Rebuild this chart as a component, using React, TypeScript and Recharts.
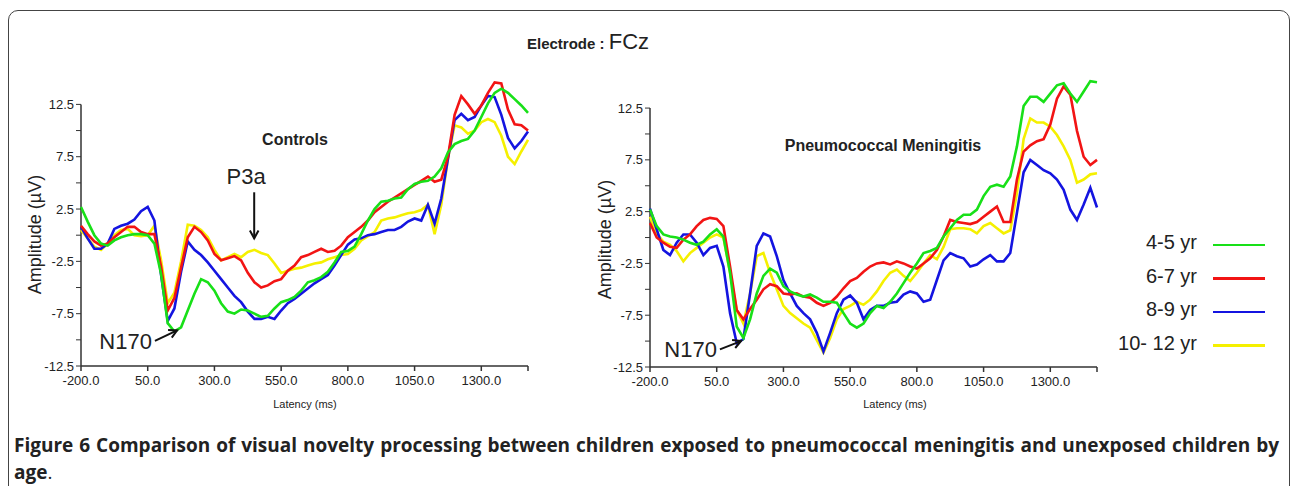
import React from "react";
import { LineChart, Line, XAxis, YAxis, ReferenceLine } from "recharts";

// latency (ms), one sample every 25 ms
const LATENCY = [
  -200, -175, -150, -125, -100, -75, -50, -25, 0, 25,
  50, 75, 100, 125, 150, 175, 200, 225, 250, 275,
  300, 325, 350, 375, 400, 425, 450, 475, 500, 525,
  550, 575, 600, 625, 650, 675, 700, 725, 750, 775,
  800, 825, 850, 875, 900, 925, 950, 975, 1000, 1025,
  1050, 1075, 1100, 1125, 1150, 1175, 1200, 1225, 1250, 1275,
  1300, 1325, 1350, 1375, 1400, 1425, 1450, 1475,
];

// Controls (µV)
const CONTROLS_4_5 = [
  2.7, 1.3, 0, -0.8, -1.0, -0.5, -0.2, 0, 0.1, 0.1,
  0, -0.8, -3.7, -8.4, -9.2, -8.8, -7.2, -5.6, -4.2, -4.5,
  -5.3, -6.5, -7.3, -7.5, -7.1, -7.2, -7.5, -7.8, -7.7, -7.0,
  -6.4, -6.2, -5.9, -5.3, -4.5, -4.3, -4.0, -3.5, -2.6, -1.6,
  -1.5, -1.1, 0.1, 1.4, 2.5, 3.2, 3.3, 3.5, 3.6, 4.4,
  4.9, 5.1, 5.2, 5.6, 6.4, 7.9, 8.7, 9.0, 9.2, 10.0,
  11.3, 12.6, 13.6, 14.0, 13.6, 13.0, 12.4, 11.7,
];
const CONTROLS_6_7 = [
  0.9, 0.1, -0.6, -1.0, -0.8, -0.2, 0.3, 0.8, 0.8, 0.3,
  0.1, 0.1, -3.0, -7.2, -6.0, -3.1, -0.2, 0.8, 0.3, -0.5,
  -1.8, -2.4, -2.2, -2.0, -2.4, -3.6, -4.5, -5.0, -4.8, -4.4,
  -4.2, -3.4, -2.9, -2.1, -1.9, -1.6, -1.3, -1.6, -1.5, -1.0,
  -0.2, 0.3, 0.8, 1.4, 2.2, 2.7, 3.2, 3.6, 4.0, 4.4,
  4.8, 5.2, 5.6, 5.1, 5.3, 7.5, 11.5, 13.3, 12.5, 11.6,
  12.4, 13.6, 14.6, 14.5, 12.0, 10.6, 10.5, 10.0,
];
const CONTROLS_8_9 = [
  0.8, -0.3, -1.3, -1.3, -0.8, 0.6, 0.9, 1.1, 1.5, 2.3,
  2.7, 1.4, -3.8, -8.2, -7.0, -3.5, -0.6, -1.4, -1.9, -2.6,
  -3.4, -4.2, -5.0, -5.8, -6.4, -7.3, -8.0, -8.0, -7.8, -8.0,
  -7.2, -6.5, -6.1, -5.6, -5.1, -4.6, -4.2, -3.8, -2.9, -1.9,
  -0.9, -0.4, -0.3, 0, 0.1, 0.3, 0.5, 0.5, 0.8, 1.3,
  1.6, 1.4, 2.9, 1.1, 3.5, 7.3, 11.0, 11.6, 11.0, 11.3,
  12.4, 13.3, 13.2, 11.5, 9.3, 8.3, 9.0, 9.9,
];
const CONTROLS_10_12 = [
  0.5, -0.3, -1.1, -1.4, -0.8, 0, 0.5, 0.6, 0.0, -0.1,
  0.0, 0.9, -2.4, -6.5, -5.5, -2.5, 1.0, 0.9, 0.5, -0.2,
  -1.4, -2.4, -2.1, -1.8, -2.1, -1.6, -1.4, -1.7, -1.9, -2.7,
  -3.6, -3.4, -3.2, -3.1, -2.9, -2.7, -2.6, -2.3, -2.1, -1.9,
  -1.8, -1.3, -0.5, -0.1, 0.3, 1.4, 1.6, 1.7, 1.9, 2.1,
  2.2, 2.4, 2.9, 0.1, 2.9, 7.3, 10.5, 10.3, 9.7, 10.0,
  10.8, 11.1, 10.8, 9.5, 7.5, 6.8, 8.0, 9.1,
];

// Pneumococcal meningitis (µV)
const MENINGITIS_4_5 = [
  2.7, 1.1, 0.3, 0.1, 0, -0.2, -0.5, -0.7, -0.4, 0.3,
  0.8, 0.1, -3.4, -8.6, -9.7, -7.9, -5.4, -3.7, -3.0, -3.4,
  -4.7, -5.2, -5.5, -5.7, -5.5, -5.8, -6.2, -6.2, -6.3, -7.3,
  -8.3, -8.7, -8.3, -7.3, -6.6, -6.8, -6.2, -5.4, -4.4, -3.4,
  -2.5, -1.5, -1.3, -1.0, 0.1, 0.9, 1.7, 2.2, 2.2, 2.7,
  4.0, 4.9, 5.1, 4.9, 5.9, 8.8, 12.7, 13.6, 13.6, 13.1,
  13.9, 14.7, 14.9, 13.9, 13.1, 14.1, 15.1, 15.0,
];
const MENINGITIS_6_7 = [
  1.4, 0, -0.5, -0.9, -1.0, -0.2, 0.3, 1.1, 1.7, 1.9,
  1.8, 1.1, -2.8, -7.0, -7.9, -6.9, -6.0, -5.0, -4.5, -4.7,
  -5.4, -5.5, -5.4, -5.7, -5.8, -6.3, -6.6, -6.3, -5.7, -4.9,
  -4.2, -3.9, -3.3, -2.8, -2.5, -2.4, -2.6, -2.3, -2.5, -2.8,
  -3.0, -2.5, -2.0, -1.2, 0.1, 1.7, 1.5, 1.4, 1.3, 1.5,
  2.0, 2.5, 3.0, 1.5, 1.5, 5.6, 8.3, 8.9, 9.3, 9.5,
  10.9, 13.4, 14.6, 13.8, 10.3, 7.8, 7.0, 7.5,
];
const MENINGITIS_8_9 = [
  2.8, 0.8, -1.2, -1.7, -0.5, 0.3, 0.3, -0.5, -1.7, -1.0,
  -0.8, -2.8, -7.3, -10.2, -9.8, -5.4, -0.8, 0.4, 0.1, -1.8,
  -4.1, -5.4, -6.6, -7.3, -7.9, -9.2, -11.0, -9.2, -7.3, -6.0,
  -5.6, -6.3, -7.9, -7.0, -6.6, -6.6, -6.3, -6.2, -5.5, -5.2,
  -5.4, -6.2, -6.0, -4.1, -2.2, -1.5, -1.8, -2.0, -2.8, -2.6,
  -2.1, -1.7, -2.3, -2.3, -1.5, 2.4, 6.3, 7.5, 7.0, 6.5,
  6.2, 5.6, 4.6, 2.7, 1.7, 3.2, 4.8, 2.9,
];
const MENINGITIS_10_12 = [
  2.0, 0.4, -0.4, -0.7, -1.3, -2.3, -1.5, -1.0, -0.5, 0,
  0.3, 0, -3.4, -7.0, -8.3, -5.4, -1.8, -1.5, -3.4, -5.0,
  -6.6, -7.3, -7.8, -8.3, -8.7, -9.9, -11.1, -9.7, -7.9, -6.9,
  -6.6, -6.2, -6.5, -6.0, -5.2, -4.2, -3.4, -3.1, -3.7, -4.2,
  -3.4, -2.5, -1.7, -2.1, -0.9, 0.8, 0.9, 0.9, 0.8, 0.4,
  1.1, 1.4, 0.9, 0.4, 0.7, 4.3, 9.5, 11.5, 11.1, 11.1,
  10.7, 9.9, 8.8, 7.5, 5.3, 5.6, 6.1, 6.2,
];

const AGE_GROUPS = ["4-5 yr", "6-7 yr", "8-9 yr", "10- 12 yr"];
const KEYS = ["a45", "a67", "a89", "a1012"];
const COLORS = ["#18e018", "#f21414", "#1414e0", "#f5f000"];
const X_TICKS = [-200, 50, 300, 550, 800, 1050, 1300, 1475];
const Y_TICKS = [-12.5, -10, -7.5, -5, -2.5, 0, 2.5, 5, 7.5, 10, 12.5];

const FONT = "'Liberation Sans', Arial, sans-serif";
const INK = "#222";

function buildRows(series: number[][]) {
  return LATENCY.map((t, i) => {
    const row: Record<string, number> = { t };
    series.forEach((s, k) => {
      row[KEYS[k]] = s[i];
    });
    return row;
  });
}

const controlsRows = buildRows([CONTROLS_4_5, CONTROLS_6_7, CONTROLS_8_9, CONTROLS_10_12]);
const meningitisRows = buildRows([MENINGITIS_4_5, MENINGITIS_6_7, MENINGITIS_8_9, MENINGITIS_10_12]);

// arrow with a text label, drawn by a ReferenceLine segment
function arrowShape(label: string, labelAt: "top" | "left") {
  return (p: any) => {
    const { x1, y1, x2, y2 } = p;
    const ang = Math.atan2(y2 - y1, x2 - x1);
    const h = 9;
    const a1 = ang + Math.PI - 0.5;
    const a2 = ang + Math.PI + 0.5;
    const head = `${x2 + h * Math.cos(a1)},${y2 + h * Math.sin(a1)} ${x2},${y2} ${x2 + h * Math.cos(a2)},${y2 + h * Math.sin(a2)}`;
    return (
      <g>
        <line x1={x1} y1={y1} x2={x2} y2={y2} stroke="#111" strokeWidth={2} />
        <polyline points={head} fill="none" stroke="#111" strokeWidth={2} />
        {labelAt === "top" ? (
          <text x={x1 - 8} y={y1 - 8} textAnchor="middle" fontSize={22} fill={INK}>
            {label}
          </text>
        ) : (
          <text x={x1 - 3} y={y1 + 8} textAnchor="end" fontSize={22} fill={INK}>
            {label}
          </text>
        )}
      </g>
    );
  };
}

interface Annotation {
  label: string;
  labelAt: "top" | "left";
  from: [number, number];
  to: [number, number];
}

function ErpPanel({
  data,
  margin,
  notes,
}: {
  data: Record<string, number>[];
  margin: { top: number; right: number; bottom: number; left: number };
  notes: Annotation[];
}) {
  return (
    <LineChart width={560} height={420} data={data} margin={margin} style={{ fontFamily: FONT }}>
      <XAxis
        dataKey="t"
        type="number"
        domain={[-200, 1475]}
        ticks={X_TICKS}
        tickFormatter={(v: number) => (v === 1475 ? "" : v.toFixed(1))}
        tick={{ fontSize: 13, fill: INK }}
        tickSize={5}
        tickMargin={5}
        height={30}
        stroke="#333"
        strokeWidth={1.5}
      />
      <YAxis
        type="number"
        domain={[-12.5, 15.5]}
        ticks={Y_TICKS}
        tickFormatter={(v: number) => (Math.round(v * 2) % 10 !== 0 ? v.toFixed(1) : "")}
        tick={{ fontSize: 13, fill: INK }}
        tickSize={5}
        width={50}
        axisLine={false}
        stroke="#333"
      />
      <ReferenceLine
        segment={[
          { x: -200, y: -12.5 },
          { x: -200, y: 12.5 },
        ]}
        stroke="#333"
        strokeWidth={1.5}
      />
      {[3, 2, 1, 0].map((k) => (
        <Line
          key={KEYS[k]}
          type="linear"
          dataKey={KEYS[k]}
          stroke={COLORS[k]}
          strokeWidth={2.6}
          dot={false}
          isAnimationActive={false}
        />
      ))}
      {notes.map((n) => (
        <ReferenceLine
          key={n.label}
          segment={[
            { x: n.from[0], y: n.from[1] },
            { x: n.to[0], y: n.to[1] },
          ]}
          shape={arrowShape(n.label, n.labelAt)}
        />
      ))}
    </LineChart>
  );
}

const abs = (s: React.CSSProperties): React.CSSProperties => ({ position: "absolute", ...s });

export default function App() {
  return (
    <div
      style={abs({
        left: 0,
        top: 0,
        width: 1293,
        height: 486,
        overflow: "hidden",
        background: "#fff",
        fontFamily: FONT,
        color: INK,
      })}
    >
      <div
        style={abs({
          left: 8,
          top: 10,
          width: 1282,
          height: 540,
          boxSizing: "border-box",
          border: "1.5px solid #444",
          borderRadius: 10,
        })}
      />

      <div style={abs({ left: 527, top: 29, whiteSpace: "nowrap" })}>
        <span style={{ fontSize: 15, fontWeight: "bold" }}>Electrode : </span>
        <span style={{ fontSize: 22 }}>FCz</span>
      </div>

      <div style={abs({ left: 0, top: 0 })}>
        <ErpPanel
          data={controlsRows}
          margin={{ top: 73, right: 32, bottom: 24, left: 31 }}
          notes={[
            { label: "P3a", labelAt: "top", from: [449, 4.1], to: [449, -0.3] },
            { label: "N170", labelAt: "left", from: [77, -10.1], to: [160, -9.1] },
          ]}
        />
      </div>
      <div style={abs({ left: 570, top: 0 })}>
        <ErpPanel
          data={meningitisRows}
          margin={{ top: 77, right: 33, bottom: 23, left: 30 }}
          notes={[{ label: "N170", labelAt: "left", from: [62, -10.8], to: [141, -10.0] }]}
        />
      </div>

      <div style={abs({ left: 245, top: 131, width: 100, textAlign: "center", fontSize: 16, fontWeight: "bold" })}>
        Controls
      </div>
      <div style={abs({ left: 733, top: 137, width: 300, textAlign: "center", fontSize: 16, fontWeight: "bold" })}>
        Pneumococcal Meningitis
      </div>

      <div style={abs({ left: 255, top: 398, width: 100, textAlign: "center", fontSize: 11 })}>Latency (ms)</div>
      <div style={abs({ left: 845, top: 398, width: 100, textAlign: "center", fontSize: 11 })}>Latency (ms)</div>

      <div
        style={abs({
          left: 35 - 80,
          top: 224,
          width: 160,
          textAlign: "center",
          fontSize: 18,
          transform: "rotate(-90deg)",
        })}
      >
        Amplitude (µV)
      </div>
      <div
        style={abs({
          left: 605 - 80,
          top: 229,
          width: 160,
          textAlign: "center",
          fontSize: 18,
          transform: "rotate(-90deg)",
        })}
      >
        Amplitude (µV)
      </div>

      <div style={abs({ left: 1095, top: 226 })}>
        {AGE_GROUPS.map((g, k) => (
          <div key={g} style={{ display: "flex", alignItems: "center", height: 33.5 }}>
            <span style={{ width: 102, textAlign: "right", fontSize: 20, whiteSpace: "nowrap" }}>{g}</span>
            <span
              style={{
                marginLeft: 16,
                marginTop: 4,
                width: 52,
                height: 2.5,
                background: COLORS[k],
              }}
            />
          </div>
        ))}
      </div>

      <div
        style={abs({
          left: 14,
          top: 432,
          width: 1265,
          fontFamily: "'Open Sans', sans-serif",
          fontSize: 19,
          fontWeight: "bold",
          textAlign: "justify",
          textAlignLast: "justify",
          whiteSpace: "nowrap",
        })}
      >
        Figure 6 Comparison of visual novelty processing between children exposed to pneumococcal meningitis and unexposed children by
      </div>
      <div
        style={abs({
          left: 14,
          top: 459,
          fontFamily: "'Open Sans', sans-serif",
          fontSize: 19,
        })}
      >
        <b>age</b>.
      </div>
    </div>
  );
}
